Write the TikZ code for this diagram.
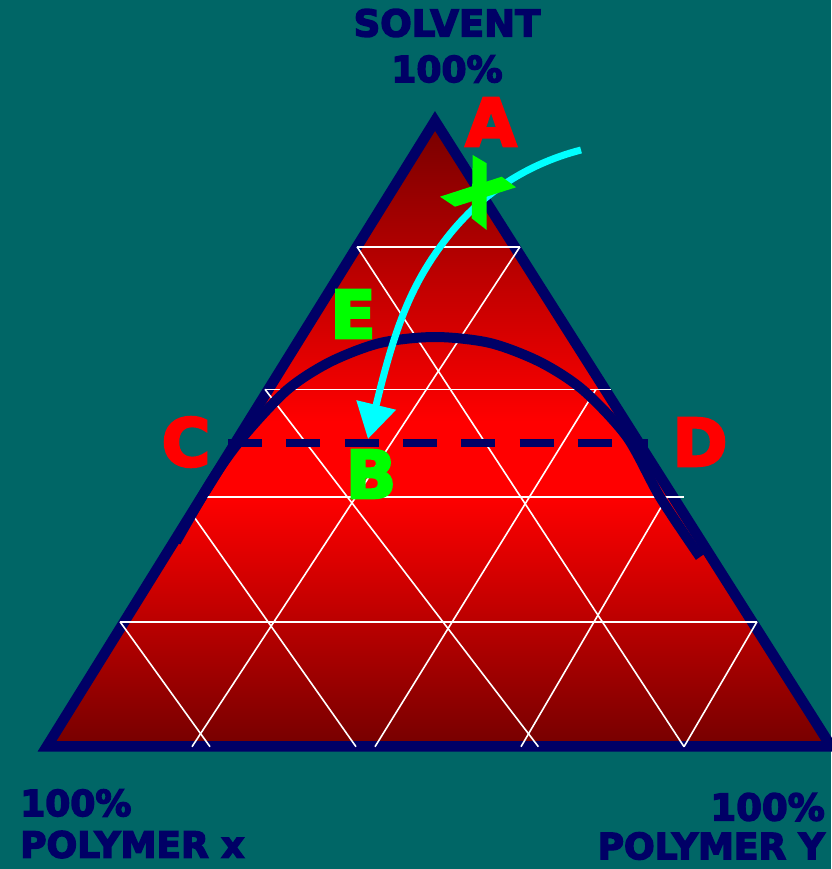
\documentclass[tikz,border=0pt]{standalone}
\usepackage{fontspec}
\setmainfont{DejaVu Sans}
\newfontfamily\heavyfont{DejaVu Sans Bold}[FakeBold=4]
\usepackage{xcolor}
\definecolor{bgteal}{RGB}{0,102,102}
\definecolor{navyline}{RGB}{0,0,102}
\definecolor{darkred}{RGB}{118,0,0}
\definecolor{brightred}{RGB}{255,0,0}
\definecolor{brightgreen}{RGB}{0,255,0}
\definecolor{brightcyan}{RGB}{0,255,255}
\usetikzlibrary{arrows.meta}
% red band a little below the middle of the triangle
\pgfdeclareverticalshading{redband}{100bp}{
  color(0bp)=(darkred); color(25bp)=(darkred); color(45bp)=(brightred);
  color(51bp)=(brightred); color(75bp)=(darkred); color(100bp)=(darkred)}
\tikzset{
  border/.style={draw=navyline, line width=10.5pt, line join=miter},
  gridline/.style={draw=white, line width=1.6pt},
  binodal/.style={draw=navyline, line width=10pt},
  tieline/.style={draw=navyline, line width=8pt, dash pattern=on 34pt off 24.3pt},
  patharrow/.style={draw=brightcyan, line width=7pt, -{Triangle[width=39pt,length=35pt]}},
  corner/.style={text=navyline, font=\heavyfont\fontsize{#1}{#1}\selectfont, inner sep=0pt},
  pointlabel/.style={text=#1, font=\heavyfont\fontsize{66}{66}\selectfont, inner sep=0pt}
}

\begin{document}
\begin{tikzpicture}[x=1pt,y=-1pt]
  \useasboundingbox (0,0) rectangle (831,869);
  \fill[bgteal] (0,0) rectangle (831,869);

  \coordinate (apex) at (435,121);
  \coordinate (left) at (47,746.3);
  \coordinate (right) at (831,746.3);

  \shade[shading=redband] (apex) -- (left) -- (right) -- cycle;
  \draw[border] (apex) -- (left) -- (right) -- cycle;

  % grid: horizontals, then the two slanted families
  \foreach \xa/\ya/\xb/\yb in {
    357/246.7/520/246.7, 265/389.3/611/389.3,
    204/497/684/497, 120/621.7/757/621.7,
    357/246.7/684/746.7, 265/389.3/538.4/746.7,
    192/514/356/746.7, 120/621.7/210/746.7,
    520/246.7/192/746.7, 596/389.3/375/746.7,
    667/497/521/746.7, 757/621.7/684/746.7
  }{
    \draw[gridline] (\xa,\ya) -- (\xb,\yb);
  }

  \draw[binodal] plot[smooth] coordinates {
    (176,542) (212,480) (243,437) (287,390) (330,362) (380,343) (435,337)
    (490,343) (540,362) (583,390) (627,437) (660,497) (700,557)};

  \coordinate (tieL) at (228,443);
  \coordinate (tieR) at (648,443);
  \draw[tieline] (tieL) -- (tieR);

  \coordinate (arrstart) at (581,150);
  \coordinate (arrbend) at (440,247);
  \coordinate (arrtip) at (368,439);
  \draw[patharrow] (arrstart) .. controls (523,165) and (475,198) .. (arrbend)
    .. controls (408,291) and (393,335) .. (arrtip);

  % the cross
  \fill[brightgreen] (472.7,155) -- (486.7,163.3) -- (486.7,230) -- (471.7,218.3) -- cycle;
  \fill[brightgreen] (440,196.7) -- (501.7,176.7) -- (516,187.3) -- (455,206.7) -- cycle;

  \node[pointlabel=brightred] (A) at (491,122) {A};
  \node[pointlabel=brightred] (C) at (186,442) {C};
  \node[pointlabel=brightred] (D) at (700,442) {D};
  \node[pointlabel=brightgreen] (E) at (353,314) {E};
  \node[pointlabel=brightgreen] (B) at (371,474) {B};

  \node[corner=37] (solvent) at (447,23) {SOLVENT};
  \node[corner=36] (toppct) at (447,69) {100\%};
  \node[corner=36, anchor=west] (leftpct) at (20,803) {100\%};
  \node[corner=36, anchor=west] (polyx) at (20,844.5) {POLYMER x};
  \node[corner=37, anchor=east] (rightpct) at (825,807) {100\%};
  \node[corner=36, anchor=east] (polyy) at (825,846) {POLYMER Y};
\end{tikzpicture}
\end{document}
